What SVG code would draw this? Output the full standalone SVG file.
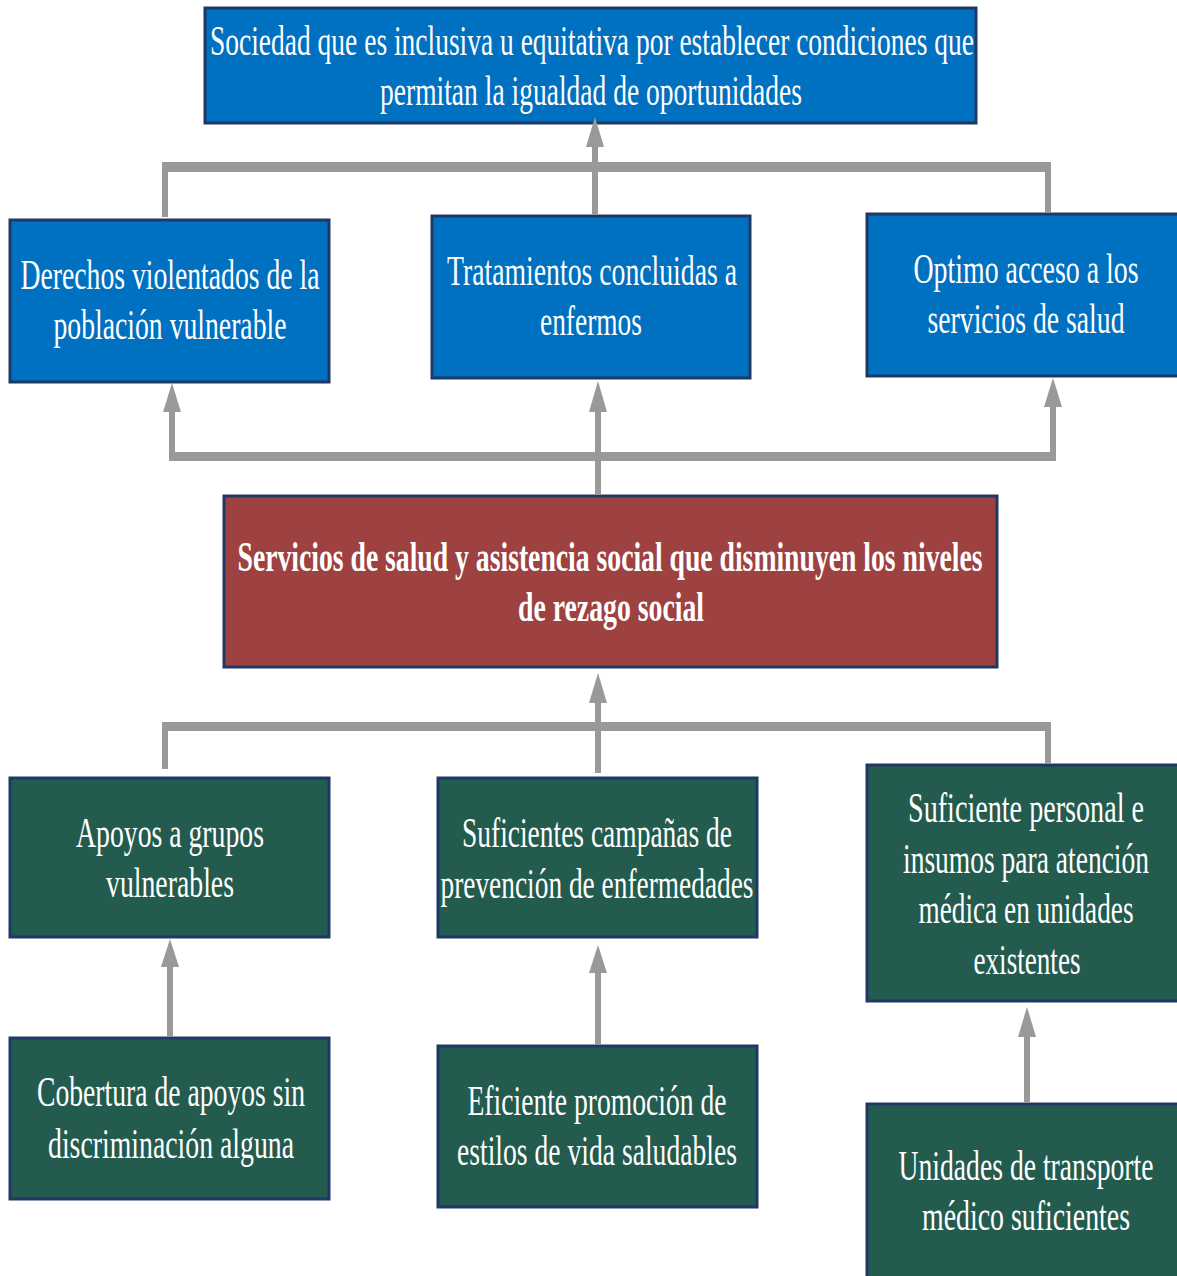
<svg xmlns="http://www.w3.org/2000/svg" width="1177" height="1276" viewBox="0 0 1177 1276">
<style>
.box{stroke:#1f3864;stroke-width:3}
.blue{fill:#0070c0}
.red{fill:#9e4141}
.green{fill:#235b4e}
.t{font-family:"Liberation Serif","DejaVu Serif","Times New Roman",serif;font-size:42px;fill:#ffffff;text-anchor:middle}
.b{font-weight:bold}
.bar{fill:#999999}
.ln{stroke:#999999;stroke-width:6;fill:none}
.hd{fill:#999999}
</style>
<rect width="1177" height="1276" fill="#ffffff"/>
<g id="nodes">
<g id="n-sociedad">
<rect class="box blue" x="205" y="8" width="771" height="115"/>
<text class="t" x="592" y="55" textLength="764" lengthAdjust="spacingAndGlyphs">Sociedad que es inclusiva u equitativa por establecer condiciones que</text>
<text class="t" x="591" y="105" textLength="422" lengthAdjust="spacingAndGlyphs">permitan la igualdad de oportunidades</text>
</g>
<g id="n-derechos">
<rect class="box blue" x="10" y="220" width="319" height="162"/>
<text class="t" x="170" y="289" textLength="299" lengthAdjust="spacingAndGlyphs">Derechos violentados de la</text>
<text class="t" x="170" y="339" textLength="233" lengthAdjust="spacingAndGlyphs">población vulnerable</text>
</g>
<g id="n-tratamientos">
<rect class="box blue" x="432" y="216" width="318" height="162"/>
<text class="t" x="592" y="285" textLength="290" lengthAdjust="spacingAndGlyphs">Tratamientos concluidas a</text>
<text class="t" x="591" y="335" textLength="102" lengthAdjust="spacingAndGlyphs">enfermos</text>
</g>
<g id="n-optimo">
<rect class="box blue" x="867" y="214" width="312" height="162"/>
<text class="t" x="1026" y="283" textLength="225" lengthAdjust="spacingAndGlyphs">Optimo acceso a los</text>
<text class="t" x="1026" y="333" textLength="197" lengthAdjust="spacingAndGlyphs">servicios de salud</text>
</g>
<g id="n-servicios">
<rect class="box red" x="224" y="496" width="773" height="171"/>
<text class="t b" x="610" y="571" textLength="745" lengthAdjust="spacingAndGlyphs">Servicios de salud y asistencia social que disminuyen los niveles</text>
<text class="t b" x="611" y="621" textLength="186" lengthAdjust="spacingAndGlyphs">de rezago social</text>
</g>
<g id="n-apoyos">
<rect class="box green" x="10" y="778" width="319" height="159"/>
<text class="t" x="170" y="847" textLength="188" lengthAdjust="spacingAndGlyphs">Apoyos a grupos</text>
<text class="t" x="170" y="897" textLength="128" lengthAdjust="spacingAndGlyphs">vulnerables</text>
</g>
<g id="n-campanas">
<rect class="box green" x="438" y="778" width="319" height="159"/>
<text class="t" x="597" y="847" textLength="270" lengthAdjust="spacingAndGlyphs">Suficientes campañas de</text>
<text class="t" x="597" y="898" textLength="313" lengthAdjust="spacingAndGlyphs">prevención de enfermedades</text>
</g>
<g id="n-personal">
<rect class="box green" x="867" y="765" width="312" height="236"/>
<text class="t" x="1026" y="822" textLength="236" lengthAdjust="spacingAndGlyphs">Suficiente personal e</text>
<text class="t" x="1026" y="873" textLength="246" lengthAdjust="spacingAndGlyphs">insumos para atención</text>
<text class="t" x="1026" y="923" textLength="215" lengthAdjust="spacingAndGlyphs">médica en unidades</text>
<text class="t" x="1027" y="974" textLength="107" lengthAdjust="spacingAndGlyphs">existentes</text>
</g>
<g id="n-cobertura">
<rect class="box green" x="10" y="1038" width="319" height="161"/>
<text class="t" x="171" y="1106" textLength="268" lengthAdjust="spacingAndGlyphs">Cobertura de apoyos sin</text>
<text class="t" x="171" y="1158" textLength="246" lengthAdjust="spacingAndGlyphs">discriminación alguna</text>
</g>
<g id="n-eficiente">
<rect class="box green" x="438" y="1046" width="319" height="161"/>
<text class="t" x="597" y="1115" textLength="259" lengthAdjust="spacingAndGlyphs">Eficiente promoción de</text>
<text class="t" x="597" y="1165" textLength="280" lengthAdjust="spacingAndGlyphs">estilos de vida saludables</text>
</g>
<g id="n-transporte">
<rect class="box green" x="867" y="1104" width="312" height="180"/>
<text class="t" x="1026" y="1180" textLength="255" lengthAdjust="spacingAndGlyphs">Unidades de transporte</text>
<text class="t" x="1026" y="1230" textLength="208" lengthAdjust="spacingAndGlyphs">médico suficientes</text>
</g>
</g>
<g id="connectors">
<rect class="bar" x="162" y="162" width="889" height="10"/>
<line class="ln" x1="165" y1="162" x2="165" y2="217"/>
<line class="ln" x1="1048" y1="162" x2="1048" y2="213"/>
<line class="ln" x1="595" y1="215" x2="595" y2="145"/>
<polygon class="hd" points="586,147 604,147 595,117"/>
<rect class="bar" x="169" y="452" width="887" height="9"/>
<line class="ln" x1="172" y1="461" x2="172" y2="410"/>
<polygon class="hd" points="163,412 181,412 172,383"/>
<line class="ln" x1="598" y1="495" x2="598" y2="410"/>
<polygon class="hd" points="589,412 607,412 598,381"/>
<line class="ln" x1="1053" y1="461" x2="1053" y2="405"/>
<polygon class="hd" points="1044,407 1062,407 1053,378"/>
<line class="ln" x1="598" y1="773" x2="598" y2="701"/>
<polygon class="hd" points="589,703 607,703 598,673"/>
<rect class="bar" x="162" y="722" width="889" height="9"/>
<line class="ln" x1="165" y1="722" x2="165" y2="769"/>
<line class="ln" x1="1048" y1="722" x2="1048" y2="764"/>
<line class="ln" x1="170" y1="1037" x2="170" y2="965"/>
<polygon class="hd" points="161,967 179,967 170,939"/>
<line class="ln" x1="598" y1="1045" x2="598" y2="971"/>
<polygon class="hd" points="589,973 607,973 598,945"/>
<line class="ln" x1="1027" y1="1103" x2="1027" y2="1035"/>
<polygon class="hd" points="1018,1037 1036,1037 1027,1007"/>
</g>
</svg>
